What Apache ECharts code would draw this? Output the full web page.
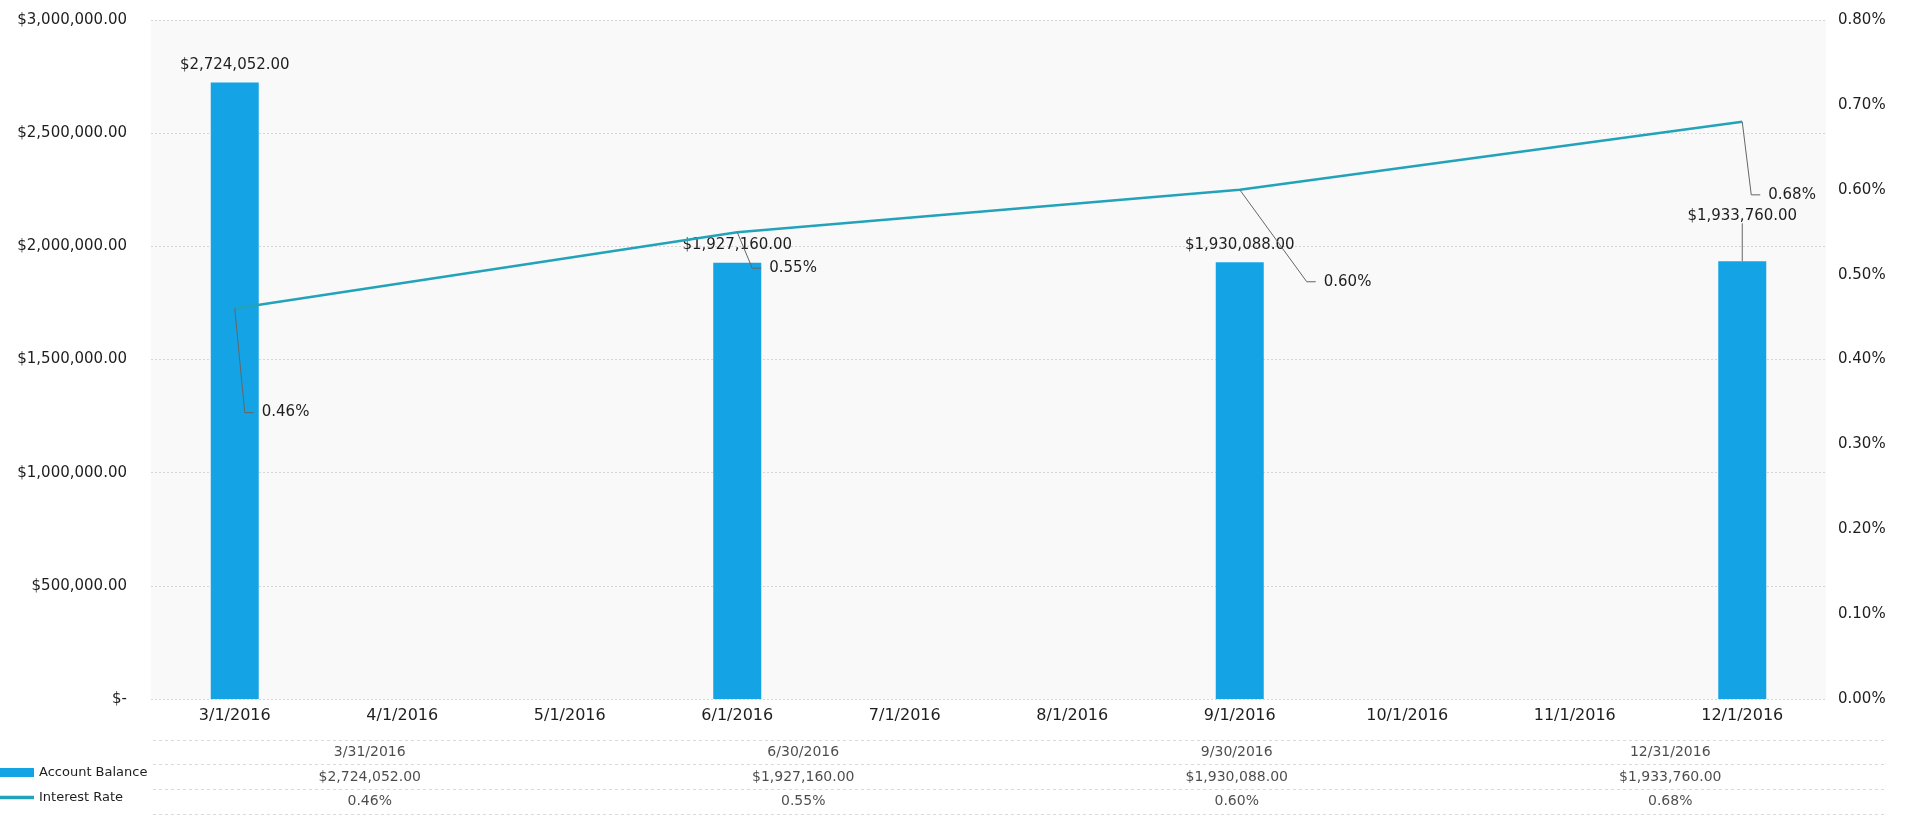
<!DOCTYPE html>
<html>
<head>
<meta charset="utf-8">
<script src="https://cdn.jsdelivr.net/npm/echarts@6/dist/echarts.min.js"></script>
<style>
html,body{margin:0;padding:0;background:#fff;}
#chart{width:1921px;height:817px;}
</style>
</head>
<body>
<div id="chart"></div>
<script>
// ---- data ----
const months = ['3/1/2016','4/1/2016','5/1/2016','6/1/2016','7/1/2016','8/1/2016','9/1/2016','10/1/2016','11/1/2016','12/1/2016'];
const balanceMonths = ['3/1/2016','6/1/2016','9/1/2016','12/1/2016'];
const periodEnds = ['3/31/2016','6/30/2016','9/30/2016','12/31/2016'];
const accountBalance = [2724052, 1927160, 1930088, 1933760];
const interestRate = [0.0046, 0.0055, 0.0060, 0.0068];
const balanceAxis = {min: 0, max: 3000000, interval: 500000};
const rateAxis = {min: 0, max: 0.008, interval: 0.001};
const tableRows = ['date', 'balance', 'rate'];

// ---- label leader offsets in px (styling only) ----
const rateLeaderShift = [[10,104],[15,36],[67,92],[9,73]];
const balanceLabelShift = [0, 0, 0, -28];

function money(v){
  if (v === 0) return '$-';
  const parts = Math.abs(v).toFixed(2).split('.');
  parts[0] = parts[0].replace(/\B(?=(\d{3})+(?!\d))/g, ',');
  return '$' + parts.join('.');
}
function pct(v){ return (v*100).toFixed(2) + '%'; }

const FONT = 'DejaVu Sans';
const TXT = '#1e1e1e';

const barData = months.map(m => {
  const i = balanceMonths.indexOf(m);
  if (i < 0) return null;
  const item = {value: accountBalance[i]};
  if (balanceLabelShift[i] !== 0) item.labelLine = {show: true};
  return item;
});
const lineData = months.map(m => {
  const i = balanceMonths.indexOf(m);
  return i < 0 ? null : interestRate[i];
});
const rateLabelData = balanceMonths.map((m, i) => [months.indexOf(m), interestRate[i], i]);
const tableData = [];
periodEnds.forEach((d, i) => {
  tableData.push([d, 'date', d]);
  tableData.push([d, 'balance', money(accountBalance[i])]);
  tableData.push([d, 'rate', pct(interestRate[i])]);
});

const chart = echarts.init(document.getElementById('chart'), null, {renderer: 'canvas'});
chart.setOption({
  animation: false,
  textStyle: {fontFamily: FONT, color: TXT},
  legend: {
    orient: 'vertical', left: 0, top: 766, padding: 0,
    itemWidth: 34, itemHeight: 9, itemGap: 12,
    textStyle: {fontFamily: FONT, fontSize: 13, color: TXT},
    data: [
      {name: 'Account Balance', icon: 'rect'},
      {name: 'Interest Rate', icon: 'path://M0,0H30V3H0Z'}
    ]
  },
  grid: [
    {left: 151, right: 95, top: 20, height: 679, show: true, backgroundColor: '#f9f9f9', borderWidth: 0},
    {left: 153, right: 34, top: 740, height: 74}
  ],
  xAxis: [
    {
      type: 'category', gridIndex: 0, data: months,
      axisLine: {show: false}, axisTick: {show: false},
      axisLabel: {fontFamily: FONT, fontSize: 16, color: TXT, margin: 9}
    },
    {
      type: 'category', gridIndex: 1, data: periodEnds,
      axisLine: {show: false}, axisTick: {show: false}, axisLabel: {show: false}
    }
  ],
  yAxis: [
    {
      type: 'value', gridIndex: 0, position: 'left',
      min: balanceAxis.min, max: balanceAxis.max, interval: balanceAxis.interval,
      axisLine: {show: false}, axisTick: {show: false},
      axisLabel: {fontFamily: FONT, fontSize: 15, color: TXT, margin: 24, formatter: money},
      splitLine: {show: true, lineStyle: {color: '#d6d6d6', type: [2, 2], width: 1}}
    },
    {
      type: 'value', gridIndex: 0, position: 'right',
      min: rateAxis.min, max: rateAxis.max, interval: rateAxis.interval,
      axisLine: {show: false}, axisTick: {show: false},
      axisLabel: {fontFamily: FONT, fontSize: 15, color: TXT, margin: 12, formatter: pct},
      splitLine: {show: false}
    },
    {
      type: 'category', gridIndex: 1, data: tableRows, inverse: true,
      axisLine: {show: false}, axisTick: {show: false}, axisLabel: {show: false},
      splitLine: {show: true, lineStyle: {color: '#dadada', type: [3, 3], width: 1}}
    }
  ],
  series: [
    {
      name: 'Account Balance', type: 'bar', xAxisIndex: 0, yAxisIndex: 0,
      data: barData, barWidth: 48, color: '#14a3e4',
      itemStyle: {color: '#14a3e4'},
      label: {
        show: true, position: 'top', distance: 10,
        fontFamily: FONT, fontSize: 15, color: TXT,
        formatter: p => money(p.value)
      },
      labelLine: {show: false, lineStyle: {color: '#666', width: 1}},
      labelLayout: p => {
        const i = balanceMonths.indexOf(months[p.dataIndex]);
        return i >= 0 && balanceLabelShift[i] ? {dy: balanceLabelShift[i]} : {};
      }
    },
    {
      name: 'Interest Rate', type: 'line', xAxisIndex: 0, yAxisIndex: 1,
      data: lineData, connectNulls: true, z: 5,
      color: '#22a3ba',
      lineStyle: {color: '#22a3ba', width: 2.5},
      symbol: 'none', showSymbol: false,
      itemStyle: {color: '#22a3ba'}
    },
    {
      name: 'rateLabels', type: 'custom', xAxisIndex: 0, yAxisIndex: 1,
      data: rateLabelData, z: 6, silent: true,
      renderItem: (params, api) => {
        const p = api.coord([api.value(0), api.value(1)]);
        const s = rateLeaderShift[api.value(2)];
        const cx = p[0] + s[0], cy = p[1] + s[1];
        return {
          type: 'group',
          children: [
            {
              type: 'polyline',
              shape: {points: [p, [cx, cy], [cx + 9, cy]]},
              style: {stroke: '#666', lineWidth: 1, fill: null}
            },
            {
              type: 'text',
              x: cx + 17, y: cy,
              style: {
                text: pct(api.value(1)),
                fontFamily: FONT, fontSize: 15, fill: TXT,
                verticalAlign: 'middle', align: 'left'
              }
            }
          ]
        };
      }
    },
    {
      name: 'table', type: 'scatter', xAxisIndex: 1, yAxisIndex: 2,
      data: tableData, symbolSize: 0, silent: true,
      label: {
        show: true, position: 'inside',
        fontFamily: FONT, fontSize: 14, color: TXT,
        formatter: p => p.value[2]
      }
    }
  ]
});
</script>
</body>
</html>
